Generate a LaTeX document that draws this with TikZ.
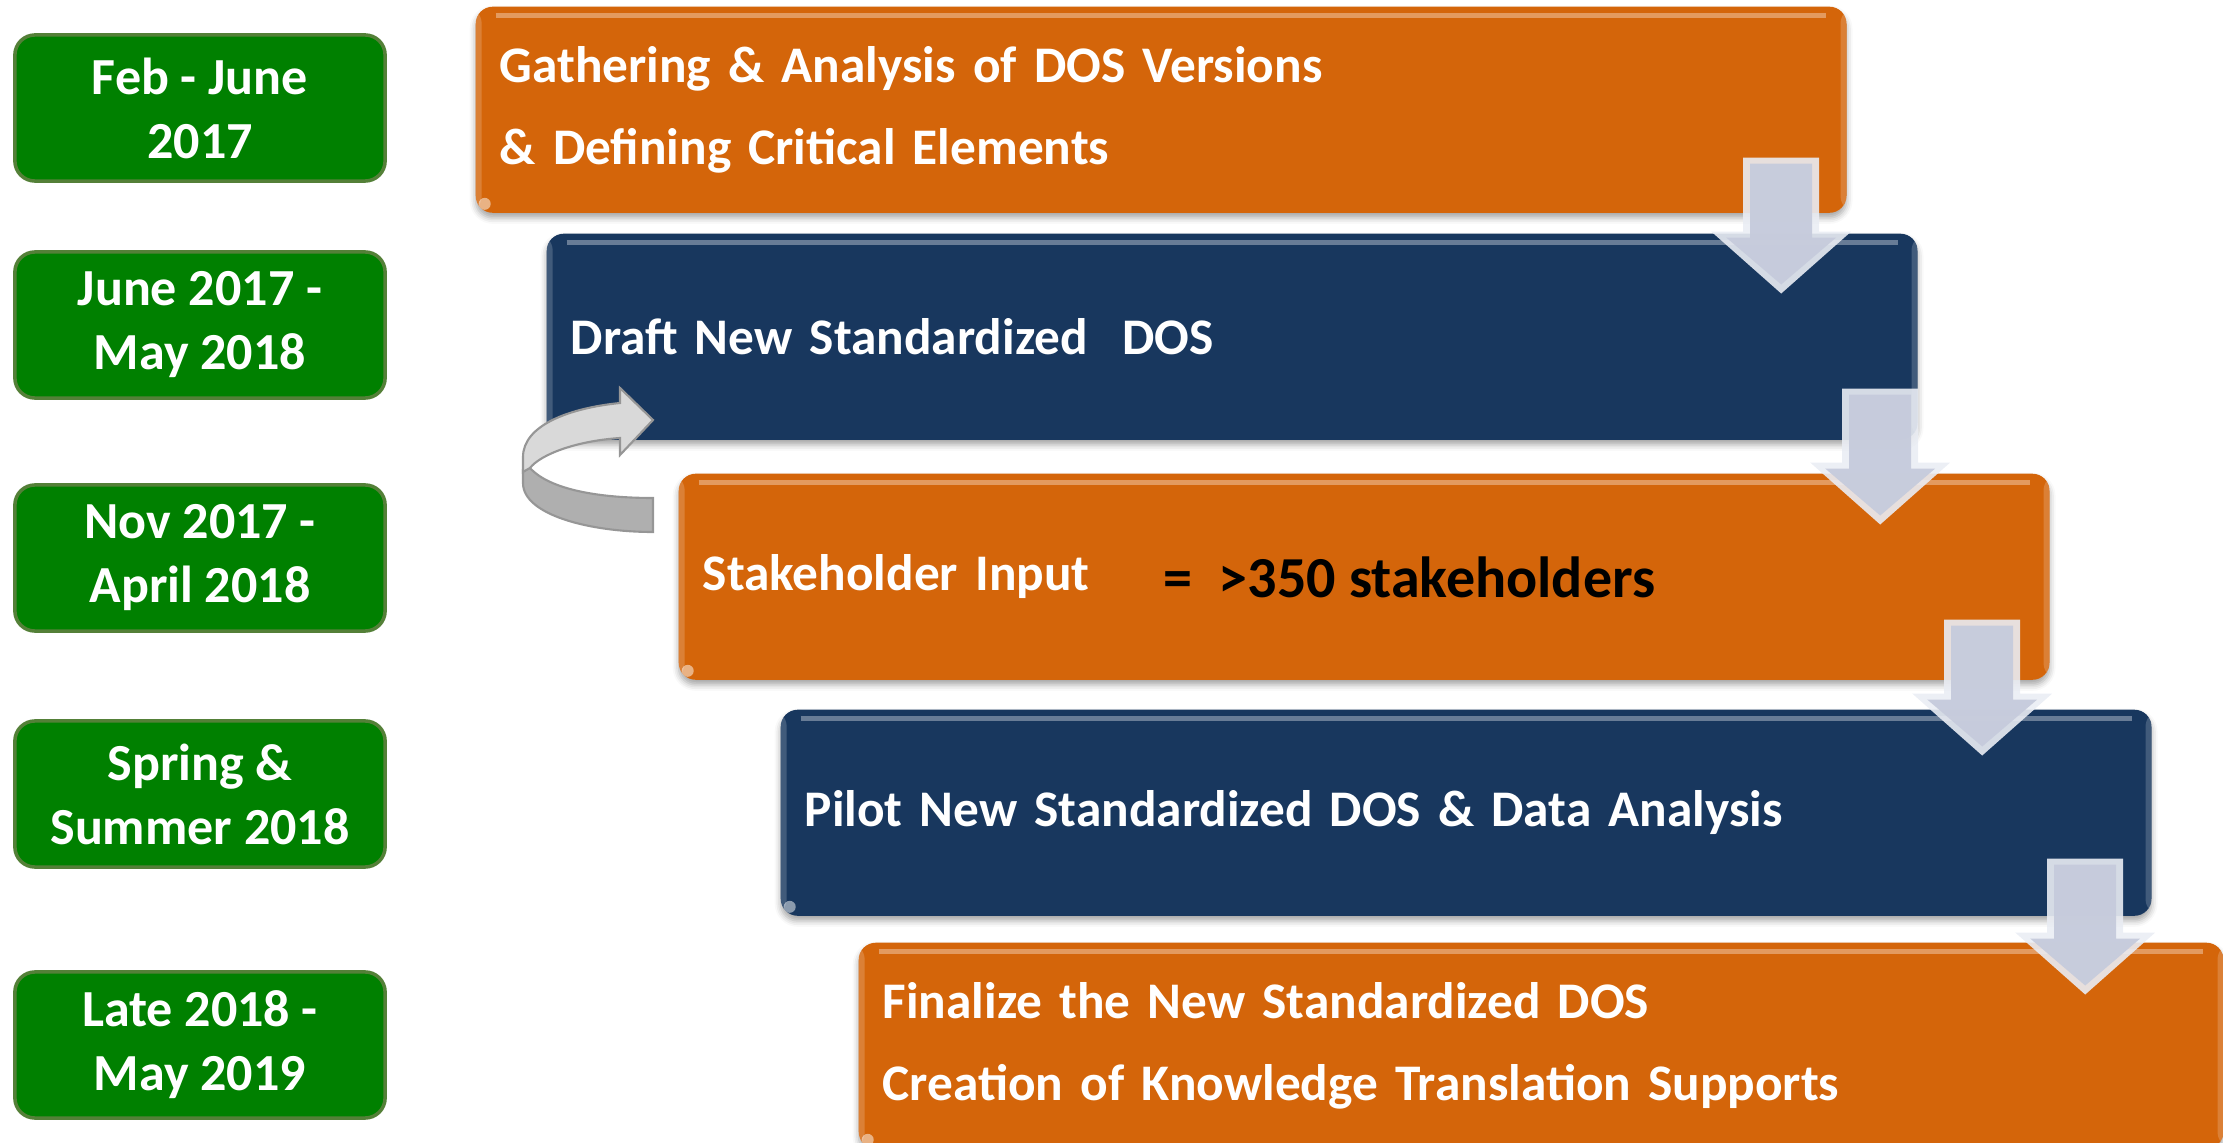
\documentclass[tikz,border=0pt]{standalone}
\usepackage{fontspec}
\setmainfont{Carlito}
\usetikzlibrary{calc,shadows.blur}

\definecolor{dategreen}{RGB}{0,128,0}
\definecolor{dateedge}{RGB}{84,128,56}
\definecolor{orng}{RGB}{212,101,10}
\definecolor{navy}{RGB}{24,55,94}
\definecolor{arrfill}{RGB}{198,203,220}
\definecolor{arredge}{RGB}{234,237,244}
\definecolor{loopl}{RGB}{217,217,217}
\definecolor{loopd}{RGB}{175,175,175}
\definecolor{loopline}{RGB}{150,150,150}

% block arrow pointing down, origin = top of the shaft
\tikzset{
  pics/downarr/.style={code={
    \fill[arredge, opacity=.9] (-38,0) -- (38,0) -- (38,74) -- (70,74) -- (0,136) -- (-70,74) -- (-38,74) -- cycle;
    \fill[arrfill, opacity=.95] (-31,6) -- (31,6) -- (31,80) -- (55,80) -- (0,127) -- (-55,80) -- (-31,80) -- cycle;
  }}
}

\begin{document}
\begin{tikzpicture}[x=0.01cm, y=-0.01cm,
  date/.style={draw=dateedge, line width=1pt, fill=dategreen, rounded corners=2mm,
    minimum width=37mm, minimum height=14.6mm, align=center, text=white,
    font=\bfseries\fontsize{14.8}{18.2}\selectfont},
  stage/.style={anchor=north west, rounded corners=1.7mm, minimum height=20.6mm,
    text width=132.2mm, inner xsep=2.4mm, align=left, text=white,
    font=\bfseries\fontsize{14.6}{23.3}\selectfont,
    blur shadow={shadow xshift=0mm, shadow yshift=-0.5mm, shadow blur radius=0.6mm, shadow opacity=35},
    path picture={
      \draw[white, opacity=.35, line width=0.5mm]
        ([xshift=2mm,yshift=-0.9mm]path picture bounding box.north west) --
        ([xshift=-2mm,yshift=-0.9mm]path picture bounding box.north east);
      \fill[white, opacity=.18] (path picture bounding box.north west) rectangle
        ([xshift=0.6mm]path picture bounding box.south west);
      \fill[white, opacity=.18] ([xshift=-0.6mm]path picture bounding box.north east) rectangle
        (path picture bounding box.south east);
      \fill[white, opacity=.5] ([xshift=0.9mm,yshift=0.9mm]path picture bounding box.south west) circle (0.6mm);
    }},
]
\useasboundingbox (0,0) rectangle (2223,1143);

% dates
\node[date] (d1) at (200,108) {Feb - June\\2017};
\node[date] (d2) at (200,325) {June 2017 -\\May 2018};
\node[date] (d3) at (200,558) {Nov 2017 -\\April 2018};
\node[date] (d4) at (200,794) {Spring \&\\Summer 2018};
\node[date] (d5) at (200,1045) {Late 2018 -\\May 2019};

% steps
\node[stage, fill=orng] (s1) at (475,6) {Gathering \& Analysis of DOS Versions\\\& Defining Critical Elements};
\node[stage, fill=navy] (s2) at (546,233) {Draft New Standardized\ \ DOS};
\node[stage, fill=orng] (s3) at (678,473) {Stakeholder Input};
\node[stage, fill=navy] (s4) at (780,709) {Pilot New Standardized DOS \& Data Analysis};
\node[stage, fill=orng, text width=131.6mm] (s5) at (858,942) {Finalize the New Standardized DOS\\Creation of Knowledge Translation Supports};

\node[anchor=base west, inner sep=0pt, font=\bfseries\fontsize{16.5}{20}\selectfont] (cnt) at (1163,598) {=\ \ >350 stakeholders};

% loop back to the draft
\filldraw[fill=loopd, draw=loopline, line width=0.6pt] (530,468) .. controls (550,490) and (600,498) .. (653,498)
  -- (653,532) .. controls (590,532) and (523,515) .. (523,483) -- (523,470) -- cycle;
\filldraw[fill=loopl, draw=loopline, line width=0.6pt] (523,472) -- (523,457) .. controls (523,425) and (570,408) .. (620,403)
  -- (620,388) -- (653,420) -- (620,455) -- (620,438) .. controls (575,441) and (540,455) .. (530,468) -- cycle;

% arrows between steps
\pic at ($(s1.south east)+(-66,-56)$) {downarr};
\pic at ($(s2.south east)+(-38,-52)$) {downarr};
\pic at ($(s3.south east)+(-68,-61)$) {downarr};
\pic at ($(s4.south east)+(-67,-58)$) {downarr};
\end{tikzpicture}
\end{document}
